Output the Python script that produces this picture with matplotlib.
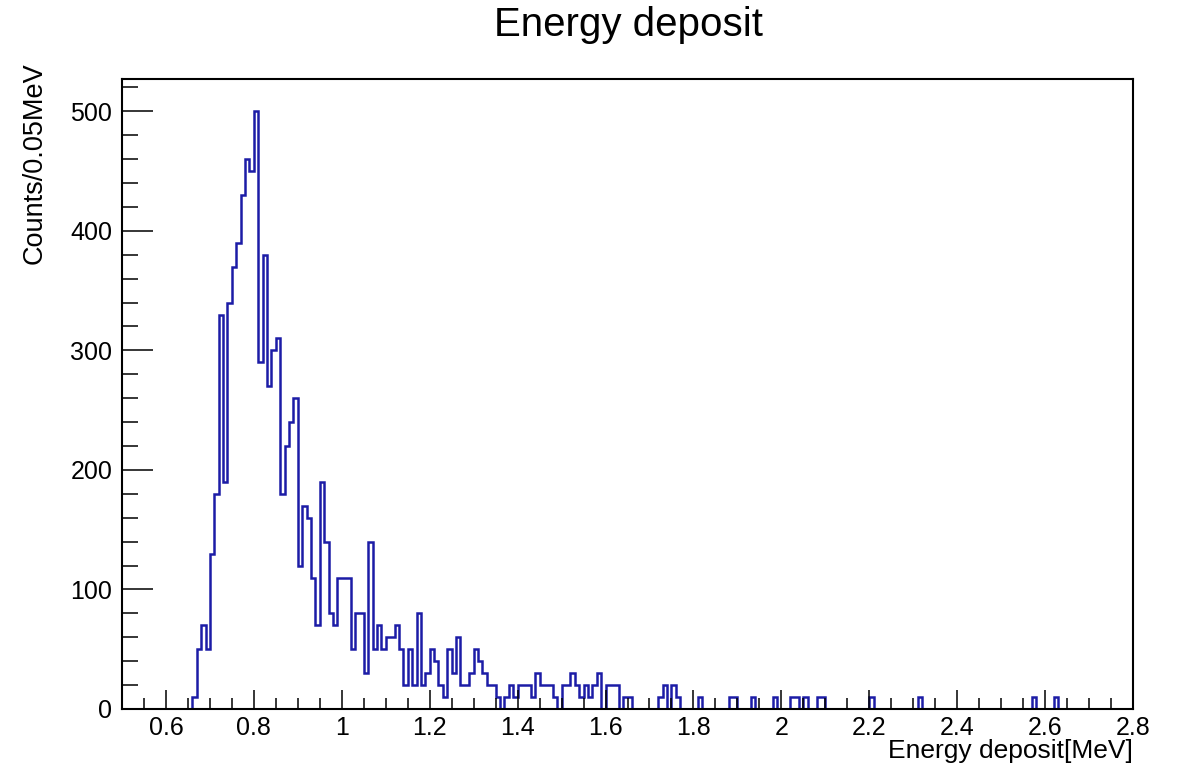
import numpy as np
import matplotlib
matplotlib.use("Agg")
from matplotlib import pyplot as plt
from matplotlib.ticker import MultipleLocator, FormatStrFormatter

plt.rcParams['font.family'] = ['Liberation Sans', 'DejaVu Sans']

# bin contents, 0.01 MeV bins starting at 0.66 MeV
first_edge = 0.66
bin_width = 0.01
counts_main = [
    10, 50, 70, 50, 130, 180, 330, 190, 340, 370,      # 0.66 - 0.75
    390, 430, 460, 450, 500, 290, 380, 270, 300, 310,  # 0.76 - 0.85
    180, 220, 240, 260, 120, 170, 160, 110, 70, 190,   # 0.86 - 0.95
    140, 80, 70, 110, 110, 110, 50, 80, 80, 30,        # 0.96 - 1.05
    140, 50, 70, 50, 60, 60, 70, 50, 20, 50,           # 1.06 - 1.15
    20, 80, 20, 30, 50, 40, 20, 10, 50, 30,            # 1.16 - 1.25
    60, 20, 20, 30, 50, 40, 30, 20, 20, 10,            # 1.26 - 1.35
    0, 10, 20, 10, 20, 20, 20, 10, 30, 20,             # 1.36 - 1.45
    20, 20, 10, 0, 20, 20, 30, 20, 10, 20,             # 1.46 - 1.55
    10, 20, 30, 0, 20, 20, 20, 0, 10, 10,              # 1.56 - 1.65
]
# isolated entries in the tail
tail_energy = [1.72, 1.73, 1.75, 1.76, 1.81, 1.88, 1.89, 1.93, 1.98, 2.02,
               2.03, 2.05, 2.08, 2.09, 2.20, 2.31, 2.57, 2.62]
tail_counts = [10, 20, 20, 10, 10, 10, 10, 10, 10, 10,
               10, 10, 10, 10, 10, 10, 10, 10]

n_bins = int(round((2.63 - first_edge) / bin_width))
counts = np.zeros(n_bins)
counts[:len(counts_main)] = counts_main
for e, c in zip(tail_energy, tail_counts):
    counts[int(round((e - first_edge) / bin_width))] = c
edges = first_edge + bin_width * np.arange(n_bins + 1)

fig = plt.figure(figsize=(11.78, 7.64), dpi=100)
ax = fig.add_axes([122 / 1178, 1 - 709 / 764, (1133 - 122) / 1178, (709 - 79) / 764])

ax.stairs(counts, edges, color='#1c1ca6', lw=1.8, baseline=0)

ax.set_xlim(0.5, 2.8)
ax.set_ylim(0, 527)

ax.xaxis.set_major_locator(MultipleLocator(0.2))
ax.xaxis.set_minor_locator(MultipleLocator(0.05))
ax.xaxis.set_major_formatter(FormatStrFormatter('%g'))
ax.yaxis.set_major_locator(MultipleLocator(100))
ax.yaxis.set_minor_locator(MultipleLocator(20))

ax.tick_params(axis='both', which='both', direction='in', top=False, right=False,
               labelsize=18, width=1.1, color='black')
ax.tick_params(axis='x', which='major', length=13.5, pad=5)
ax.tick_params(axis='x', which='minor', length=8)
ax.tick_params(axis='y', which='major', length=22, pad=7)
ax.tick_params(axis='y', which='minor', length=11.5)

for s in ax.spines.values():
    s.set_linewidth(1.5)
    s.set_zorder(3)

fig.text(628 / 1178, 1 - 25 / 764, 'Energy deposit', fontsize=29,
         ha='center', va='center')
fig.text(1133 / 1178, 1 - 751 / 764, 'Energy deposit[MeV]', fontsize=19,
         ha='right', va='center')
fig.text(35 / 1178, 1 - 62 / 764, 'Counts/0.05MeV', fontsize=19.5,
         rotation=90, ha='center', va='top')

plt.savefig('out.png', dpi=100)
